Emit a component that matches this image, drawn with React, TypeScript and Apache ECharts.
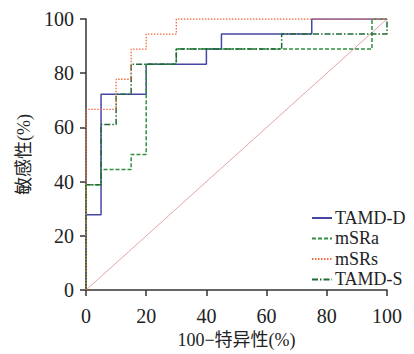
import React, { useEffect, useRef } from "react";
import * as echarts from "echarts";

const xTicks = [0, 20, 40, 60, 80, 100];
const seriesNames = ["TAMD-D", "mSRa", "mSRs", "TAMD-S"];

// ROC coordinates: [100 - specificity (%), sensitivity (%)]
const tamdD: [number, number][] = [
  [0, 0], [0, 27.78], [5, 27.78], [5, 72.22], [20, 72.22], [20, 83.33],
  [40, 83.33], [40, 88.89], [45, 88.89], [45, 94.44], [75, 94.44], [75, 100], [100, 100],
];
const mSRa: [number, number][] = [
  [0, 0], [0, 38.89], [5, 38.89], [5, 44.44], [15, 44.44], [15, 50], [20, 50],
  [20, 83.33], [30, 83.33], [30, 88.89], [95, 88.89], [95, 100], [100, 100],
];
const mSRs: [number, number][] = [
  [0, 0], [0, 66.67], [10, 66.67], [10, 77.78], [15, 77.78], [15, 88.89],
  [20, 88.89], [20, 94.44], [30, 94.44], [30, 100], [100, 100],
];
const tamdS: [number, number][] = [
  [0, 0], [0, 38.89], [5, 38.89], [5, 61.11], [10, 61.11], [10, 72.22],
  [15, 72.22], [15, 83.33], [30, 83.33], [30, 88.89], [65, 88.89], [65, 94.44],
  [100, 94.44], [100, 100],
];
const reference: [number, number][] = [[0, 0], [100, 100]];

const FONT = "Liberation Serif, Times New Roman, Noto Sans CJK SC, serif";

export default function App() {
  const ref = useRef<HTMLDivElement>(null);
  useEffect(() => {
    if (!ref.current) return;
    const chart = echarts.init(ref.current, undefined, { renderer: "svg" });
    const axisLine = { show: true, onZero: false, lineStyle: { color: "#333", width: 1.5 } };
    const axisTick = { show: true, length: 6, inside: false, lineStyle: { color: "#333", width: 1.5 } };
    const nameTextStyle = { color: "#222", fontSize: 18, fontFamily: FONT };
    chart.setOption({
      animation: false,
      backgroundColor: "#fff",
      textStyle: { fontFamily: FONT },
      grid: { left: 86, right: 27, top: 19, bottom: 61 },
      xAxis: {
        type: "value",
        min: 0,
        max: 100,
        interval: 20,
        splitLine: { show: false },
        axisLine,
        axisTick,
        name: "100−特异性(%)",
        nameLocation: "middle",
        nameGap: 27,
        nameTextStyle,
        axisLabel: {
          color: "#222",
          fontSize: 20,
          fontFamily: FONT,
          margin: 16,
          formatter: (v: number) => (xTicks.includes(v) ? String(v) : ""),
        },
      },
      yAxis: {
        type: "value",
        min: 0,
        max: 100,
        interval: 20,
        splitLine: { show: false },
        axisLine,
        axisTick,
        name: "敏感性(%)",
        nameLocation: "middle",
        nameGap: 51,
        nameTextStyle,
        axisLabel: { color: "#222", fontSize: 20, fontFamily: FONT, margin: 12 },
      },
      legend: {
        orient: "vertical",
        left: 311,
        top: 209,
        padding: 0,
        itemWidth: 20,
        itemHeight: 10,
        itemGap: 2.5,
        data: seriesNames,
        itemStyle: { opacity: 0 },
        textStyle: { color: "#222", fontSize: 18, fontFamily: FONT, padding: [0, 0, 0, -2] },
      },
      series: [
        {
          name: "ref",
          type: "line",
          data: reference,
          symbol: "none",
          silent: true,
          lineStyle: { color: "#e3a4a4", width: 1 },
          z: 1,
        },
        {
          name: "mSRa",
          type: "line",
          data: mSRa,
          symbol: "none",
          color: "#2f8f40",
          lineStyle: { color: "#2f8f40", width: 1.5, type: [4, 2] },
          z: 3,
        },
        {
          name: "TAMD-S",
          type: "line",
          data: tamdS,
          symbol: "none",
          color: "#1d6a33",
          lineStyle: { color: "#1d6a33", width: 1.5, type: [6, 2, 1.5, 2] },
          z: 4,
        },
        {
          name: "mSRs",
          type: "line",
          data: mSRs,
          symbol: "none",
          color: "#f26c40",
          lineStyle: { color: "#f26c40", width: 1.3, type: [1.5, 1.5] },
          z: 5,
        },
        {
          name: "TAMD-D",
          type: "line",
          data: tamdD,
          symbol: "none",
          color: "#4646a6",
          lineStyle: { color: "#4646a6", width: 1.5 },
          z: 2,
        },
      ],
    });
    return () => chart.dispose();
  }, []);
  return <div ref={ref} style={{ width: 414, height: 354, position: "absolute", left: 0, top: 0 }} />;
}
